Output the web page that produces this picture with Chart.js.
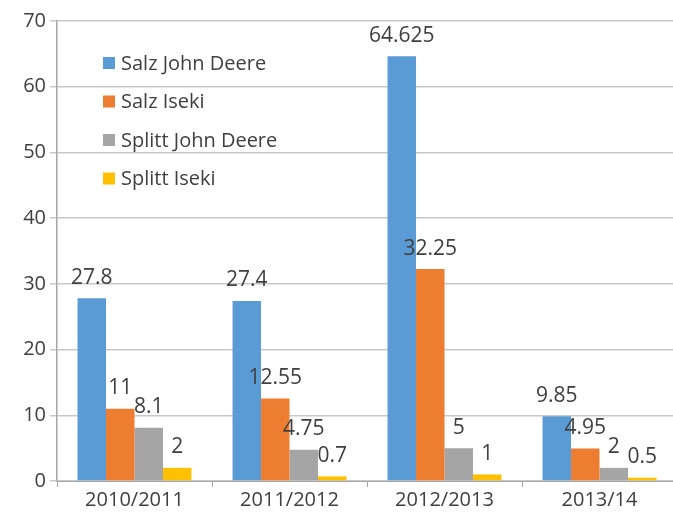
<!DOCTYPE html>
<html>
<head>
<meta charset="utf-8">
<script src="https://cdn.jsdelivr.net/npm/chart.js@4"></script>
<style>
  html, body { margin: 0; padding: 0; background: #fff; overflow: hidden; }
  #wrap { width: 684px; height: 516px; }
</style>
</head>
<body>
<div id="wrap"><canvas id="grafico" width="684" height="516"></canvas></div>
<script>
const categorias = ["2010/2011", "2011/2012", "2012/2013", "2013/14"];
const salzJohnDeere = [27.8, 27.4, 64.625, 9.85];
const salzIseki = [11, 12.55, 32.25, 4.95];
const splittJohnDeere = [8.1, 4.75, 5, 2];
const splittIseki = [2, 0.7, 1, 0.5];
const etiquetasSeries = ["Salz John Deere", "Salz Iseki", "Splitt John Deere", "Splitt Iseki"];
const colores = ["#5b9bd5", "#ed7d31", "#a5a5a5", "#ffc000"];

const fuente = "'Open Sans', sans-serif";
const gris = "#404040";

// value labels over each bar
const etiquetasValor = {
  id: "etiquetasValor",
  afterDatasetsDraw(chart) {
    const ctx = chart.ctx;
    ctx.save();
    ctx.font = "21px " + fuente;
    ctx.fillStyle = gris;
    ctx.textAlign = "center";
    ctx.textBaseline = "bottom";
    chart.data.datasets.forEach((ds, i) => {
      chart.getDatasetMeta(i).data.forEach((bar, j) => {
        ctx.fillText(String(ds.data[j]), bar.x, bar.y - 10);
      });
    });
    ctx.restore();
  }
};

// legend drawn inside the plot, top left
const leyenda = {
  id: "leyenda",
  afterDraw(chart) {
    const ctx = chart.ctx;
    ctx.save();
    ctx.font = "20px " + fuente;
    ctx.textBaseline = "middle";
    ctx.textAlign = "left";
    chart.data.datasets.forEach((ds, i) => {
      const y = 63 + i * 38.5;
      ctx.fillStyle = ds.backgroundColor;
      ctx.fillRect(103, y - 6, 12, 12);
      ctx.fillStyle = gris;
      ctx.fillText(ds.label, 121, y + 1);
    });
    ctx.restore();
  }
};

const series = [salzJohnDeere, salzIseki, splittJohnDeere, splittIseki];

new Chart(document.getElementById("grafico"), {
  type: "bar",
  data: {
    labels: categorias,
    datasets: series.map((d, i) => ({
      label: etiquetasSeries[i],
      data: d,
      backgroundColor: colores[i],
      borderWidth: 0,
      barPercentage: 1,
      categoryPercentage: 0.735,
    })),
  },
  options: {
    responsive: false,
    animation: false,
    layout: { padding: { top: 21, right: 7, left: 0, bottom: 0 } },
    plugins: {
      legend: { display: false },
      tooltip: { enabled: false },
    },
    scales: {
      x: {
        grid: { drawOnChartArea: false, drawTicks: true, tickLength: 6, color: "#a6a6a6" },
        border: { display: true, color: "#a6a6a6" },
        ticks: { color: gris, font: { family: fuente, size: 20 }, padding: 1 },
        afterFit(scale) { scale.height = 35; },
      },
      y: {
        min: 0,
        max: 70,
        ticks: { stepSize: 10, color: gris, font: { family: fuente, size: 20 }, padding: 4 },
        grid: { color: "#c8c8c8", lineWidth: 1.5, tickLength: 7 },
        border: { display: true, color: "#a6a6a6", width: 1.5 },
        afterFit(scale) { scale.width = 57; },
      },
    },
  },
  plugins: [etiquetasValor, leyenda],
});
</script>
</body>
</html>
